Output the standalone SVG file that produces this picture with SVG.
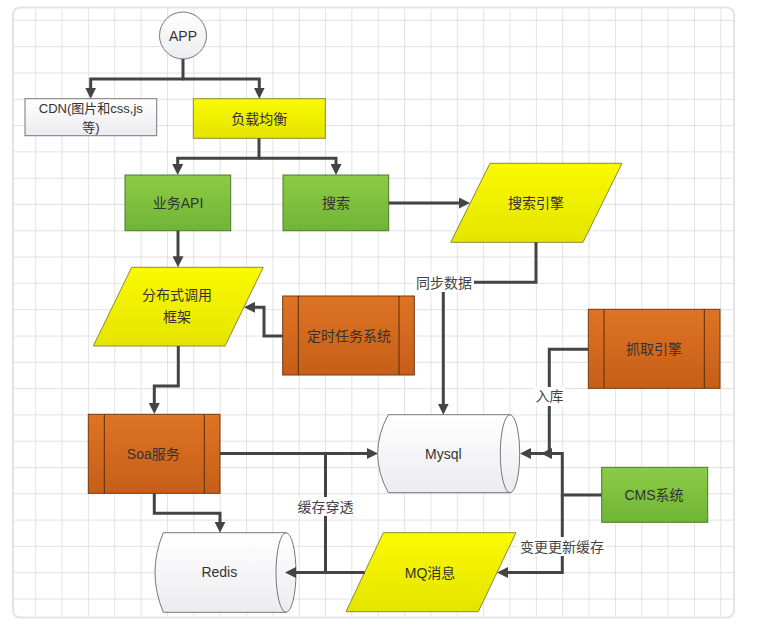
<svg xmlns="http://www.w3.org/2000/svg" width="775" height="625" viewBox="0 0 775 625">
<style>
text{font-family:"Liberation Sans","Noto Sans CJK SC",sans-serif;font-size:14px;fill:#333;text-anchor:middle;dominant-baseline:central}
.lbl{fill:#444}
.grid{stroke:#e2e2e2;stroke-width:1;fill:none}
.con{stroke:#444;stroke-width:3;fill:none;marker-end:url(#arr)}
.line{stroke:#444;stroke-width:3;fill:none}
.yel{fill:url(#gy);stroke:#8a8a40;stroke-width:1}
.grn{fill:url(#gg);stroke:#4c7a2a;stroke-width:1}
.org{fill:url(#go);stroke:#74380e;stroke-width:1}
.wht{fill:url(#gw);stroke:#777;stroke-width:1}
.inner{stroke:#5a2e0c;stroke-width:1;fill:none}
.bg{fill:#fff}
</style>
<defs>
<linearGradient id="gy" x1="0" y1="0" x2="0" y2="1"><stop offset="0" stop-color="#fafa00"/><stop offset="1" stop-color="#e4e400"/></linearGradient>
<linearGradient id="gg" x1="0" y1="0" x2="0" y2="1"><stop offset="0" stop-color="#8ccb45"/><stop offset="1" stop-color="#70b536"/></linearGradient>
<linearGradient id="go" x1="0" y1="0" x2="0" y2="1"><stop offset="0" stop-color="#de7424"/><stop offset="1" stop-color="#c65e18"/></linearGradient>
<linearGradient id="gw" x1="0" y1="0" x2="0" y2="1"><stop offset="0" stop-color="#ffffff"/><stop offset="1" stop-color="#ececf0"/></linearGradient>
<marker id="arr" viewBox="0 0 11 11" markerWidth="11" markerHeight="11" markerUnits="userSpaceOnUse" refX="3" refY="5.5" orient="auto"><path d="M0,0 L11,5.5 L0,11 Z" fill="#444"/></marker>
</defs>
<rect x="0" y="0" width="775" height="625" fill="#fff"/>
<g id="grid">
<rect x="13" y="7.5" width="721" height="610" rx="7" fill="#fff" stroke="#e4e4e4" stroke-width="2"/>
<path class="grid" d="M35.7,9V616M62.05,9V616M88.4,9V616M114.75,9V616M141.1,9V616M167.45,9V616M193.8,9V616M220.15,9V616M246.5,9V616M272.85,9V616M299.2,9V616M325.55,9V616M351.9,9V616M378.25,9V616M404.6,9V616M430.95,9V616M457.3,9V616M483.65,9V616M510,9V616M536.35,9V616M562.7,9V616M589.05,9V616M615.4,9V616M641.75,9V616M668.1,9V616M694.45,9V616M720.8,9V616"/>
<path class="grid" d="M14,20.4H733M14,46.7H733M14,73H733M14,99.3H733M14,125.6H733M14,151.9H733M14,178.2H733M14,204.5H733M14,230.8H733M14,257.1H733M14,283.4H733M14,309.7H733M14,336H733M14,362.3H733M14,388.6H733M14,414.9H733M14,441.2H733M14,467.5H733M14,493.8H733M14,520.1H733M14,546.4H733M14,572.7H733M14,599H733"/>
</g>
<g id="app">
<circle class="wht" cx="183" cy="35.5" r="23.5"/>
<text x="183" y="35.5">APP</text>
</g>
<g id="cdn">
<rect class="wht" x="25" y="98.7" width="131.7" height="37"/>
<text x="90.8" y="108.5" style="font-size:13px">CDN(图片和css,js</text>
<text x="90.8" y="127" style="font-size:13px">等)</text>
</g>
<g id="lb">
<rect class="yel" x="193.3" y="98.7" width="132" height="39.6"/>
<text x="259.3" y="118.5">负载均衡</text>
</g>
<g id="api">
<rect class="grn" x="125" y="175" width="105.7" height="55.7"/>
<text x="178" y="203">业务API</text>
</g>
<g id="search">
<rect class="grn" x="283" y="175" width="105.7" height="55.7"/>
<text x="336" y="203">搜索</text>
</g>
<g id="engine">
<polygon class="yel" points="490,163.3 622,163.3 583,242.3 450.7,242.3"/>
<text x="536" y="203">搜索引擎</text>
</g>
<g id="rpc">
<polygon class="yel" points="131.7,267.3 263.3,267.3 225,346 93.3,346"/>
<text x="177" y="295">分布式调用</text>
<text x="177" y="316.7">框架</text>
</g>
<g id="cron">
<rect class="org" x="282.7" y="296" width="131.6" height="79"/>
<path class="inner" d="M298.3,296V375M399,296V375"/>
<text x="349" y="335.5">定时任务系统</text>
</g>
<g id="crawler">
<rect class="org" x="588.3" y="309.3" width="131.7" height="79"/>
<path class="inner" d="M604,309.3V388.3M704.3,309.3V388.3"/>
<text x="654" y="349.3">抓取引擎</text>
</g>
<g id="soa">
<rect class="org" x="88.3" y="414.3" width="131.7" height="79"/>
<path class="inner" d="M104.3,414.3V493.3M204.3,414.3V493.3"/>
<text x="153.3" y="453.5">Soa服务</text>
</g>
<g id="mysql">
<path class="wht" d="M388.3,414.7L510,414.7A9.7,39 0 0 1 510,492.7L388.3,492.7Q367,453.7 388.3,414.7Z"/>
<path fill="none" stroke="#777" stroke-width="1" d="M510,414.7A9.7,39 0 0 0 510,492.7"/>
<text x="443.3" y="453.5">Mysql</text>
</g>
<g id="redis">
<path class="wht" d="M163.3,532.7L286,532.7A10,39.8 0 0 1 286,612.3L163.3,612.3Q146.7,572.5 163.3,532.7Z"/>
<path fill="none" stroke="#777" stroke-width="1" d="M286,532.7A10,39.8 0 0 0 286,612.3"/>
<text x="219.3" y="572">Redis</text>
</g>
<g id="mq">
<polygon class="yel" points="383.3,532.7 516,532.7 478.3,611.7 346,611.7"/>
<text x="430" y="572.7">MQ消息</text>
</g>
<g id="cms">
<rect class="grn" x="601.7" y="467.3" width="106" height="55"/>
<text x="654" y="495">CMS系统</text>
</g>
<g id="connectors">
<path class="con" d="M183,59V79H90.7V90.7"/>
<path class="con" d="M183,79H259.3V90.7"/>
<path class="con" d="M259,138.3V158.3H177.7V167"/>
<path class="con" d="M259,158.3H336V167"/>
<path class="con" d="M388.7,203H462"/>
<path class="con" d="M178,230.7V259.3"/>
<path class="con" d="M282.7,336H264V307.3H252"/>
<path class="con" d="M178.3,346V386H154.3V406"/>
<path class="con" d="M536,242.3V282.3H443.3V406.7"/>
<path class="con" d="M220,453.5H370"/>
<path class="con" d="M154.3,493.3V513.3H220V524.7"/>
<path class="line" d="M325.5,453.5V572.5"/>
<path class="con" d="M364.8,572.5H293"/>
<path class="con" d="M588.3,349.3H549.3V453.5H528"/>
<path class="con" d="M601.7,495H562.3V453.5H549"/>
<path class="con" d="M562.3,495V572.5H505"/>
<rect class="bg" x="414" y="273" width="60" height="19"/>
<text class="lbl" x="444" y="282.5">同步数据</text>
<rect class="bg" x="534" y="387" width="31" height="19"/>
<text class="lbl" x="549.5" y="396">入库</text>
<rect class="bg" x="296" y="497" width="59" height="19"/>
<text class="lbl" x="325.5" y="506.5">缓存穿透</text>
<rect class="bg" x="518" y="537" width="88" height="19"/>
<text class="lbl" x="562" y="546.5">变更更新缓存</text>
</g>
</svg>
